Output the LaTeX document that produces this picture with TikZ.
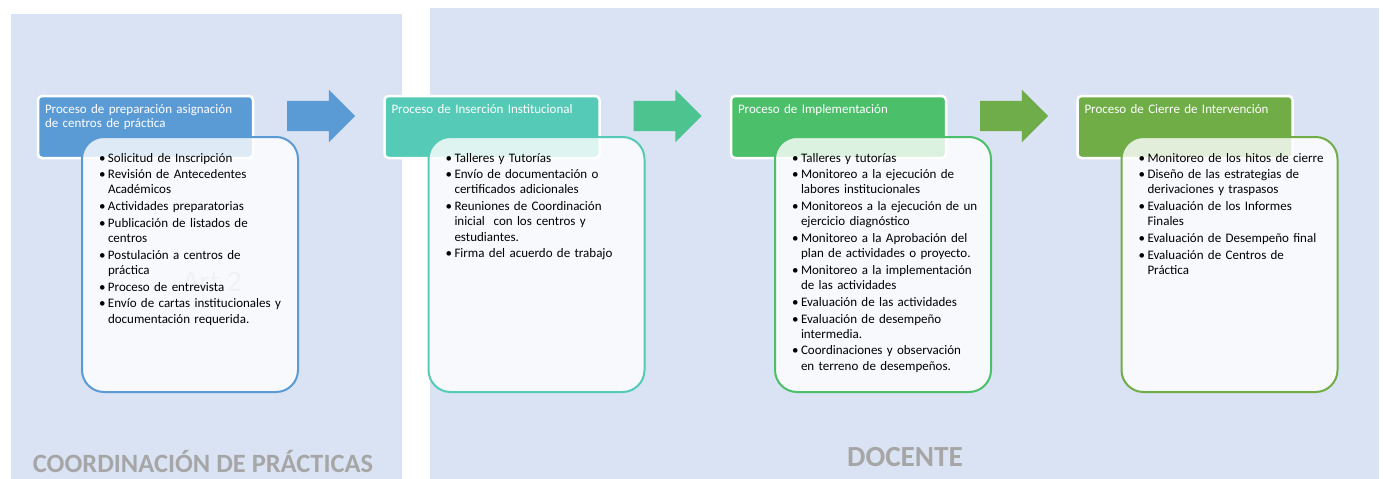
\documentclass[tikz,border=0pt]{standalone}
\usepackage{fontspec}
\setmainfont{Carlito}
\usetikzlibrary{shapes.arrows,positioning}

\definecolor{panelbg}{HTML}{DAE3F3}
\definecolor{blueP}{HTML}{5B9BD5}
\definecolor{tealP}{HTML}{55CBB7}
\definecolor{greenP}{HTML}{4BBF6A}
\definecolor{oliveP}{HTML}{70AD47}
\definecolor{arrowB}{HTML}{4DC38F}
\definecolor{arrowC}{HTML}{6EAD49}
\definecolor{sidegray}{HTML}{A6A6A6}
\definecolor{faint}{HTML}{B4BAC6}

\newcommand{\itm}[1]{\leftskip=4pt\hangindent=9pt\hangafter=1\makebox[9pt][l]{\textbullet}#1\par\vspace{1.5pt}}

\begin{document}
\begin{tikzpicture}[
        x=1pt, y=-1pt,
        node distance=346.5pt,
        hdr/.style={rectangle, rounded corners=4pt, draw=white, line width=2.5pt,
            text=white, text width=201pt, inner xsep=7pt, inner ysep=6pt,
            text height=11pt, text depth=39pt, minimum height=62pt, align=left,
            font=\fontsize{13}{14}\selectfont},
        card/.style={rectangle, rounded corners=22pt, line width=2pt, fill=white,
            fill opacity=0.8, text opacity=1, text width=190pt, inner xsep=13pt,
            inner ysep=14pt, text height=11pt, text depth=216pt, align=left,
            font=\fontsize{13}{15.2}\selectfont},
        flow/.style={single arrow, minimum height=68pt, inner xsep=0pt,
            inner ysep=15pt, single arrow head extend=11pt,
            single arrow tip angle=90, draw=none},
        side/.style={text=sidegray}
    ]
    \useasboundingbox (0,0) rectangle (1384,479);

    % Panels
    \fill[panelbg] (11,14) rectangle (402,479);
    \fill[panelbg] (430,8) rectangle (1379,479);

    % Headers
    \node[hdr, fill=blueP] (h1) at (145.5,127) {Proceso de preparación asignación\\de centros de práctica};
    \node[hdr, fill=tealP, right of=h1] (h2) {Proceso de Inserción Institucional};
    \node[hdr, fill=greenP, right of=h2] (h3) {Proceso de Implementación};
    \node[hdr, fill=oliveP, right of=h3] (h4) {Proceso de Cierre de Intervención};

    % Arrows
    \node[flow, fill=blueP] (a1) at (313.5,116) {};
    \node[flow, fill=arrowB, right of=a1] (a2) {};
    \node[flow, fill=arrowC, right of=a2] (a3) {};

    % Watermark (under the card)
    \node[font=\fontsize{30}{34}\selectfont, text=faint] (wm) at (212,282) {Art 2};

    % Cards
    \node[card, draw=blueP] (c1) at (190,264.5) {%
        \itm{Solicitud de Inscripción}
        \itm{Revisión de Antecedentes\newline Académicos}
        \itm{Actividades preparatorias}
        \itm{Publicación de listados de\newline centros}
        \itm{Postulación a centros de\newline práctica}
        \itm{Proceso de entrevista}
        \itm{Envío de cartas institucionales y\newline documentación requerida.}};
    \node[card, draw=tealP, right of=c1] (c2) {%
        \itm{Talleres y Tutorías}
        \itm{Envío de documentación o\newline certificados adicionales}
        \itm{Reuniones de Coordinación\newline inicial\ \ con los centros y\newline estudiantes.}
        \itm{Firma del acuerdo de trabajo}};
    \node[card, draw=greenP, right of=c2] (c3) {%
        \itm{Talleres y tutorías}
        \itm{Monitoreo a la ejecución de\newline labores institucionales}
        \itm{Monitoreos a la ejecución de un\newline ejercicio diagnóstico}
        \itm{Monitoreo a la Aprobación del\newline plan de actividades o proyecto.}
        \itm{Monitoreo a la implementación\newline de las actividades}
        \itm{Evaluación de las actividades}
        \itm{Evaluación de desempeño\newline intermedia.}
        \itm{Coordinaciones y observación\newline en terreno de desempeños.}};
    \node[card, draw=oliveP, right of=c3] (c4) {%
        \itm{Monitoreo de los hitos de cierre}
        \itm{Diseño de las estrategias de\newline derivaciones y traspasos}
        \itm{Evaluación de los Informes\newline Finales}
        \itm{Evaluación de Desempeño final}
        \itm{Evaluación de Centros de\newline Práctica}};

    % Side labels
    \node[side, font=\bfseries\fontsize{26.4}{30}\selectfont] (coord) at (203,461) {COORDINACIÓN DE PRÁCTICAS};
    \node[side, font=\bfseries\fontsize{29.2}{33}\selectfont] (doc) at (905,457) {DOCENTE};
\end{tikzpicture}
\end{document}
